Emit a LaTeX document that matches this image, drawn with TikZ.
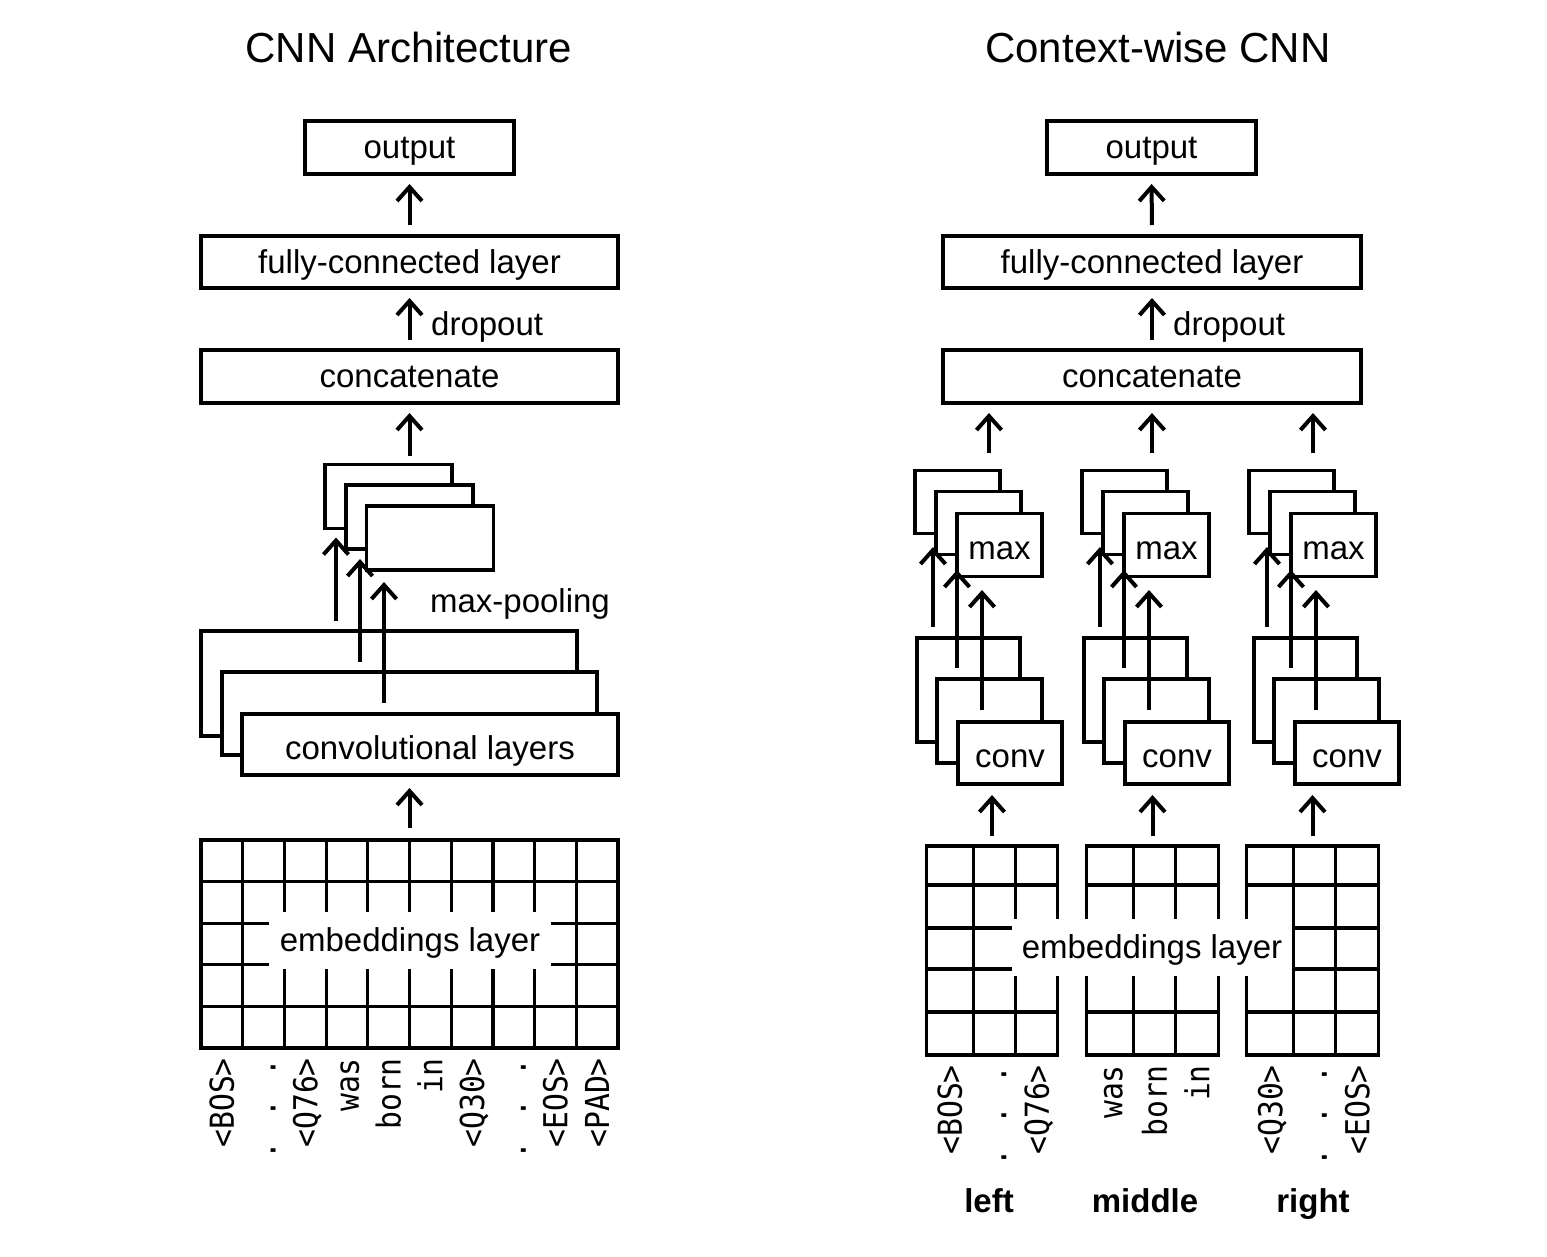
\documentclass[tikz,border=0pt]{standalone}
\usepackage{fontspec}
\setmainfont{Liberation Sans}
\newfontfamily\monof[FakeStretch=0.9]{DejaVu Sans Mono}
\usetikzlibrary{arrows.meta,calc}
\newcommand\bodyfont{\fontsize{33}{40}\selectfont}
\newcommand\titlefont{\fontsize{42}{50}\selectfont}
\newcommand\tokfont{\monof\fontsize{33}{36}\selectfont}
\tikzset{
 box/.style={draw, line width=3.3pt, fill=white, inner sep=0pt, outer sep=0pt, font=\bodyfont, text height=29pt, text depth=7pt},
 boxlow/.style={box, text height=36pt},
 arr/.style={line width=4pt, -{Straight Barb[length=14pt,width=25pt]}},
 gridline/.style={line width=3.2pt},
 gridbox/.style={draw, line width=3.2pt, inner sep=0pt, outer sep=0pt},
 lbl/.style={inner sep=0pt, font=\bodyfont, text height=29pt, text depth=7pt},
 tok/.style={rotate=90, anchor=east, inner sep=0pt, font=\tokfont, text height=24pt, text depth=0pt},
 emblab/.style={fill=white, inner sep=0pt, font=\bodyfont, minimum height=57pt, text height=29pt, text depth=7pt},
}
\begin{document}
\begin{tikzpicture}[x=1pt,y=-1pt]
\path[use as bounding box, fill=white] (0,0) rectangle (1547,1256);

% ---------------- left: CNN Architecture ----------------
\node[inner sep=0pt, font=\titlefont] (titleL) at (409,47) {CNN Architecture};
\node[box, minimum width=209pt, minimum height=53pt] (outL) at (409.5,147.5) {output};
\node[box, minimum width=417pt, minimum height=52pt] (fcL) at (409.5,262) {fully-connected layer};
\node[box, minimum width=417pt, minimum height=53pt] (catL) at (409.5,376.5) {concatenate};
\node[box, minimum width=127pt, minimum height=64pt] (mxAL) at (388.5,496.5) {};
\node[box, minimum width=127pt, minimum height=64pt] (mxBL) at (409.5,517) {};
\node[box, minimum width=127pt, minimum height=64pt] (mxCL) at (430,538) {};
\node[lbl] (mpL) at (520,601) {max-pooling};
\node[box, minimum width=376pt, minimum height=105pt] (cvAL) at (389,683.5) {};
\node[box, minimum width=375pt, minimum height=83pt] (cvBL) at (409.5,713.5) {};
\node[boxlow, minimum width=376pt, minimum height=61pt] (cvCL) at (430,744.5) {convolutional layers};
\node[gridbox, minimum width=417pt, minimum height=208pt] (embL) at (409.5,944) {};
\foreach \c in {1,...,9}
  \draw[gridline] ($(embL.north west)+(\c*41.7,0)$) -- ($(embL.south west)+(\c*41.7,0)$);
\foreach \r in {1,...,4}
  \draw[gridline] ($(embL.north west)+(0,\r*41.6)$) -- ($(embL.north east)+(0,\r*41.6)$);
\node[emblab, minimum width=282pt] (embLlab) at (410,940.5) {embeddings layer};
\foreach \t [count=\k] in {<BOS>,. . .,<Q76>,was,born,in,<Q30>,. . .,<EOS>,<PAD>}
  \node[tok] (tokL\k) at ($(embL.south west)+(\k*41.7-20.85,10)$) {\t};

\draw[arr, shorten <=11pt, shorten >=10pt] (fcL.north) -- (outL.south);
\draw[arr, shorten <=10pt, shorten >=10pt] (catL.north) -- (fcL.south);
\node[lbl, anchor=west] (dropL) at (431,324.5) {dropout};
\draw[arr, shorten <=9pt, shorten >=10pt] (catL.south |- mxAL.north) -- (catL.south);
\draw[arr, shorten <=10pt, shorten >=9pt] ($(mxAL.south |- cvAL.north)+(-52.5,0)$) -- ($(mxAL.south)+(-52.5,0)$);
\draw[arr, shorten <=10pt, shorten >=10pt] ($(mxBL.south |- cvBL.north)+(-49.5,0)$) -- ($(mxBL.south)+(-49.5,0)$);
\draw[arr, shorten <=11pt, shorten >=12pt] ($(mxCL.south |- cvCL.north)+(-46,0)$) -- ($(mxCL.south)+(-46,0)$);
\draw[arr, shorten <=12pt, shorten >=13pt] (embL.north) -- (embL.north |- cvCL.south);

% ---------------- right: Context-wise CNN ----------------
\node[inner sep=0pt, font=\titlefont] (titleR) at (1158,47) {Context-wise CNN};
\node[box, minimum width=209pt, minimum height=53pt] (outR) at (1151.5,147.5) {output};
\node[box, minimum width=418pt, minimum height=52pt] (fcR) at (1152,262) {fully-connected layer};
\node[box, minimum width=418pt, minimum height=53pt] (catR) at (1152,376.5) {concatenate};
\draw[arr, shorten <=11pt, shorten >=10pt] (fcR.north) -- (outR.south);
\draw[arr, shorten <=10pt, shorten >=10pt] (catR.north) -- (fcR.south);
\node[lbl, anchor=west] (dropR) at (1173,324.5) {dropout};

\foreach \i/\dx/\cx/\gx/\ex in {1/0/0/0/989, 2/167/167/160.5/1152, 3/334/337/320.5/1313} {
  \node[box, minimum width=85pt, minimum height=63pt] (mxA\i) at (957.5+\dx,502) {};
  \node[box, minimum width=85pt, minimum height=63pt] (mxB\i) at (978.5+\dx,523) {};
  \node[boxlow, minimum width=85pt, minimum height=63pt] (mxC\i) at (999.5+\dx,545) {max};
  \node[box, minimum width=103pt, minimum height=104pt] (cvA\i) at (968.5+\cx,690) {};
  \node[box, minimum width=105pt, minimum height=84pt] (cvB\i) at (989.5+\cx,721) {};
  \node[boxlow, minimum width=104pt, minimum height=62pt] (cvC\i) at (1010+\cx,753) {conv};
  \node[gridbox, minimum width=131.5pt, minimum height=209pt] (embR\i) at (992+\gx,950.5) {};
  \foreach \c in {47,89}
    \draw[gridline] ($(embR\i.north west)+(\c,0)$) -- ($(embR\i.south west)+(\c,0)$);
  \foreach \r in {39,82,123,166}
    \draw[gridline] ($(embR\i.north west)+(0,\r)$) -- ($(embR\i.north east)+(0,\r)$);
  \draw[arr, shorten <=11pt, shorten >=13.5pt] ($(mxA\i.south |- cvA\i.north)+(-24.5,0)$) -- ($(mxA\i.south)+(-24.5,0)$);
  \draw[arr, shorten <=11pt, shorten >=15.5pt] ($(mxB\i.south |- cvB\i.north)+(-21.5,0)$) -- ($(mxB\i.south)+(-21.5,0)$);
  \draw[arr, shorten <=12pt, shorten >=13.5pt] ($(mxC\i.south |- cvC\i.north)+(-17.5,0)$) -- ($(mxC\i.south)+(-17.5,0)$);
  \draw[arr, shorten <=10pt, shorten >=11pt] (embR\i.north) -- (embR\i.north |- cvC\i.south);
  \coordinate (ca\i) at (\ex,0);
  \draw[arr, shorten <=17.5pt, shorten >=10pt] (ca\i |- mxA\i.north) -- (ca\i |- catR.south);
}
\node[emblab, minimum width=280pt] (embRlab) at (1152,947.5) {embeddings layer};

\foreach \t/\p [count=\k] in {<BOS>/23.5,. . ./68,<Q76>/110.5}
  \node[tok] (tokRa\k) at ($(embR1.south west)+(\p,10)$) {\t};
\foreach \t/\p [count=\k] in {was/23.5,born/68,in/110.5}
  \node[tok] (tokRb\k) at ($(embR2.south west)+(\p,10)$) {\t};
\foreach \t/\p [count=\k] in {<Q30>/23.5,. . ./68,<EOS>/110.5}
  \node[tok] (tokRc\k) at ($(embR3.south west)+(\p,10)$) {\t};

\node[lbl, font=\bodyfont\bfseries] (lftR) at (989,1201.5) {left};
\node[lbl, font=\bodyfont\bfseries] (midR) at (1145,1201.5) {middle};
\node[lbl, font=\bodyfont\bfseries] (rgtR) at (1313,1201.5) {right};
\end{tikzpicture}
\end{document}
